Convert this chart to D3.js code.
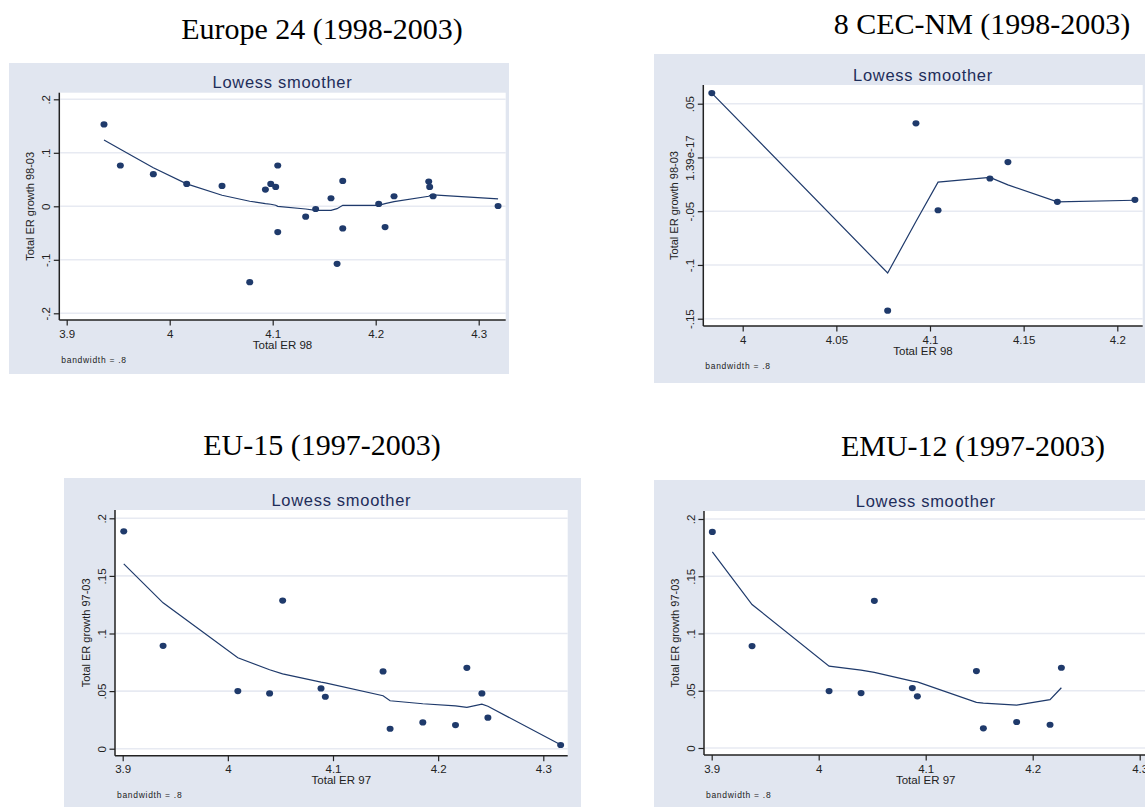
<!DOCTYPE html>
<html>
<head>
<meta charset="utf-8">
<script src="https://cdn.jsdelivr.net/npm/d3@7"></script>
<style>
  body { margin: 0; background: #fff; }
  svg { display: block; }
</style>
</head>
<body>
<svg id="chart" width="1145" height="807"></svg>
<script>
// Europe 24 (1998-2003)
const eu24X = [3.9362, 3.9521, 3.9841, 4.0165, 4.0508, 4.0777, 4.0929, 4.0981, 4.1029, 4.1049, 4.1049, 4.132,
  4.1417, 4.1566, 4.1625, 4.168, 4.168, 4.2029, 4.2091, 4.2178, 4.2515, 4.2524, 4.2557, 4.3188];
const eu24Y = [0.1531, 0.0763, 0.06, 0.0419, 0.0381, -0.1419, 0.0313, 0.0419, 0.0363, 0.0763, -0.0481, -0.0194,
  -0.005, 0.015, -0.1075, 0.0475, -0.0413, 0.0044, -0.0388, 0.0188, 0.0463, 0.0363, 0.0188, 0.0006];
const eu24Fit = [0.1238, 0.1066, 0.0719, 0.0419, 0.0206, 0.0094, 0.005, 0.0038, 0.0019, 0, 0, -0.005,
  -0.0075, -0.0075, -0.0044, 0.0019, 0.0019, 0.0019, 0.005, 0.0088, 0.0188, 0.02, 0.0213, 0.0138];
const eu24XTicks = [3.9, 4, 4.1, 4.2, 4.3];
const eu24YTicks = [0.2, 0.1, 0, -0.1, -0.2];
const eu24YLabels = [".2", ".1", "0", "-.1", "-.2"];

// 8 CEC-NM (1998-2003)
const cecX = [3.9835, 4.0774, 4.0925, 4.1043, 4.132, 4.1416, 4.168, 4.2094];
const cecY = [0.0599, -0.1425, 0.0317, -0.0491, -0.0196, -0.0043, -0.0413, -0.0394];
const cecFit = [0.0599, -0.1075, -0.0596, -0.023, -0.0186, -0.0255, -0.0413, -0.0398];
const cecXTicks = [4, 4.05, 4.1, 4.15, 4.2];
const cecYTicks = [0.05, 0, -0.05, -0.1, -0.15];
const cecYLabels = [".05", "1.39e-17", "-.05", "-.1", "-.15"];

// EU-15 (1997-2003)
const eu15X = [3.901, 3.9384, 4.0095, 4.0397, 4.0521, 4.0886, 4.0927, 4.1476, 4.1543, 4.1854, 4.2165, 4.2273,
  4.2416, 4.2473, 4.3165];
const eu15Y = [0.1887, 0.0893, 0.05, 0.048, 0.1286, 0.0523, 0.0451, 0.0671, 0.0173, 0.0228, 0.0205, 0.0702,
  0.048, 0.0269, 0.0032];
const eu15Fit = [0.1604, 0.1266, 0.0789, 0.0685, 0.065, 0.0578, 0.0572, 0.046, 0.0416, 0.039, 0.0372, 0.0358,
  0.0386, 0.0368, 0.0035];
const eu15XTicks = [3.9, 4, 4.1, 4.2, 4.3];
const eu15YTicks = [0.2, 0.15, 0.1, 0.05, 0];
const eu15YLabels = [".2", ".15", ".1", ".05", "0"];

// EMU-12 (1997-2003)
const emuX = [3.9006, 3.9377, 4.0097, 4.0396, 4.052, 4.0875, 4.0922, 4.1474, 4.1539, 4.185, 4.2162, 4.2268];
const emuY = [0.1887, 0.089, 0.0497, 0.048, 0.1285, 0.0523, 0.0451, 0.0672, 0.0172, 0.0227, 0.0203, 0.0701];
const emuFit = [0.1712, 0.1253, 0.0715, 0.068, 0.066, 0.0584, 0.0578, 0.0398, 0.0392, 0.0375, 0.0422, 0.0526];
const emuXTicks = [3.9, 4, 4.1, 4.2, 4.3];
const emuYTicks = [0.2, 0.15, 0.1, 0.05, 0];
const emuYLabels = [".2", ".15", ".1", ".05", "0"];

const bgColor = "#e1e6f0";
const navy = "#1f3a6b";
const sans = "'Liberation Sans', Arial, sans-serif";

const svg = d3.select("#chart");

function drawPanel(p) {
  const g = svg.append("g");

  // graph region
  g.append("rect")
    .attr("x", p.bg[0]).attr("y", p.bg[1])
    .attr("width", p.bg[2] - p.bg[0]).attr("height", p.bg[3] - p.bg[1])
    .attr("fill", bgColor);

  // plot region
  g.append("rect")
    .attr("x", p.plot[0]).attr("y", p.plot[1])
    .attr("width", p.plot[2] - p.plot[0]).attr("height", p.plot[3] - p.plot[1])
    .attr("fill", "#fff");

  const x = d3.scaleLinear().domain(p.xDom).range(p.xRange);
  const y = d3.scaleLinear().domain(p.yDom).range(p.yRange);

  // gridlines
  g.append("g")
    .selectAll("line")
    .data(p.yTicks)
    .join("line")
    .attr("x1", p.plot[0] + 1).attr("x2", p.plot[2])
    .attr("y1", d => y(d)).attr("y2", d => y(d))
    .attr("stroke", "#e7eaf2")
    .attr("stroke-width", 1.6);

  // y axis
  const yAxis = g.append("g")
    .attr("transform", "translate(" + p.plot[0] + ",0)")
    .call(d3.axisLeft(y).tickValues(p.yTicks).tickSize(5.5).tickFormat((d, i) => p.yLabels[i]));
  yAxis.select(".domain")
    .attr("d", "M0," + p.plot[1] + "V" + p.plot[3])
    .attr("stroke", "#222").attr("stroke-width", 1.5);
  yAxis.selectAll(".tick line").attr("stroke", "#222").attr("stroke-width", 1.2);
  yAxis.selectAll(".tick text")
    .attr("x", null).attr("dy", null)
    .attr("transform", "translate(-9.5,0) rotate(-90)")
    .attr("text-anchor", "middle")
    .attr("fill", "#222")
    .style("font-family", sans).style("font-size", "11.5px");

  // x axis
  const xAxis = g.append("g")
    .attr("transform", "translate(0," + p.plot[3] + ")")
    .call(d3.axisBottom(x).tickValues(p.xTicks).tickSize(5.5).tickFormat(d3.format("")));
  xAxis.select(".domain")
    .attr("d", "M" + p.plot[0] + ",0H" + p.plot[2])
    .attr("stroke", "#222").attr("stroke-width", 1.5);
  xAxis.selectAll(".tick line").attr("stroke", "#222").attr("stroke-width", 1.2);
  xAxis.selectAll(".tick text")
    .attr("y", 17.5).attr("dy", null)
    .attr("fill", "#222")
    .style("font-family", sans).style("font-size", "11.5px");

  const cx = (p.plot[0] + p.plot[2]) / 2;

  // lowess line
  const pts = p.xs.map((d, i) => [d, p.fit[i]]);
  g.append("path")
    .datum(pts)
    .attr("fill", "none")
    .attr("stroke", navy)
    .attr("stroke-width", 1.2)
    .attr("d", d3.line().x(d => x(d[0])).y(d => y(d[1])));

  // scatter
  g.append("g")
    .selectAll("ellipse")
    .data(p.xs.map((d, i) => [d, p.ys[i]]))
    .join("ellipse")
    .attr("cx", d => x(d[0]))
    .attr("cy", d => y(d[1]))
    .attr("rx", 3.5).attr("ry", 3.1)
    .attr("fill", navy);

  // texts
  g.append("text")
    .attr("x", cx).attr("y", p.titleY)
    .attr("text-anchor", "middle")
    .attr("fill", "#1e2d5a")
    .style("font-family", sans).style("font-size", "16.5px").style("letter-spacing", "0.7px")
    .text("Lowess smoother");

  g.append("text")
    .attr("x", cx).attr("y", p.plot[3] + 28.5)
    .attr("text-anchor", "middle")
    .attr("fill", "#222")
    .style("font-family", sans).style("font-size", "11.5px")
    .text(p.xLabel);

  g.append("text")
    .attr("transform", "translate(" + (p.plot[0] - 25) + "," + ((p.plot[1] + p.plot[3]) / 2) + ") rotate(-90)")
    .attr("text-anchor", "middle")
    .attr("fill", "#222")
    .style("font-family", sans).style("font-size", "11px")
    .text(p.yLabel);

  g.append("text")
    .attr("x", p.plot[0] + 2).attr("y", p.plot[3] + 42.5)
    .attr("fill", "#222")
    .style("font-family", sans).style("font-size", "8.5px").style("letter-spacing", "0.7px")
    .text("bandwidth = .8");

  // panel heading
  svg.append("text")
    .attr("x", p.head[0]).attr("y", p.head[1])
    .attr("text-anchor", "middle")
    .attr("fill", "#000")
    .style("font-family", "'Liberation Serif', 'Times New Roman', serif").style("font-size", "30px")
    .text(p.heading);
}

drawPanel({
  heading: "Europe 24 (1998-2003)", head: [322, 39],
  bg: [9, 63, 509, 374], plot: [59.3, 92.7, 505.7, 320],
  xDom: [3.9, 4.3], xRange: [66.7, 478.7], yDom: [0.2, -0.2], yRange: [99.3, 313.3],
  xs: eu24X, ys: eu24Y, fit: eu24Fit, xTicks: eu24XTicks, yTicks: eu24YTicks, yLabels: eu24YLabels,
  xLabel: "Total ER 98", yLabel: "Total ER growth 98-03", titleY: 88.3
});

drawPanel({
  heading: "8 CEC-NM (1998-2003)", head: [982, 34],
  bg: [654, 54, 1145, 383], plot: [703.3, 85, 1142.7, 326],
  xDom: [4, 4.2], xRange: [742.7, 1117.3], yDom: [0.05, -0.15], yRange: [103.7, 318.7],
  xs: cecX, ys: cecY, fit: cecFit, xTicks: cecXTicks, yTicks: cecYTicks, yLabels: cecYLabels,
  xLabel: "Total ER 98", yLabel: "Total ER growth 98-03", titleY: 80.7
});

drawPanel({
  heading: "EU-15 (1997-2003)", head: [322, 455],
  bg: [64, 478, 581, 807], plot: [115, 510, 567.7, 755.7],
  xDom: [3.9, 4.3], xRange: [122.7, 543.3], yDom: [0.2, 0], yRange: [518.3, 748.7],
  xs: eu15X, ys: eu15Y, fit: eu15Fit, xTicks: eu15XTicks, yTicks: eu15YTicks, yLabels: eu15YLabels,
  xLabel: "Total ER 97", yLabel: "Total ER growth 97-03", titleY: 505.7
});

drawPanel({
  heading: "EMU-12 (1997-2003)", head: [973, 456],
  bg: [654, 480, 1145, 807], plot: [704, 511, 1147.4, 755],
  xDom: [3.9, 4.3], xRange: [711.7, 1139.7], yDom: [0.2, 0], yRange: [519, 748],
  xs: emuX, ys: emuY, fit: emuFit, xTicks: emuXTicks, yTicks: emuYTicks, yLabels: emuYLabels,
  xLabel: "Total ER 97", yLabel: "Total ER growth 97-03", titleY: 506.7
});
</script>
</body>
</html>
